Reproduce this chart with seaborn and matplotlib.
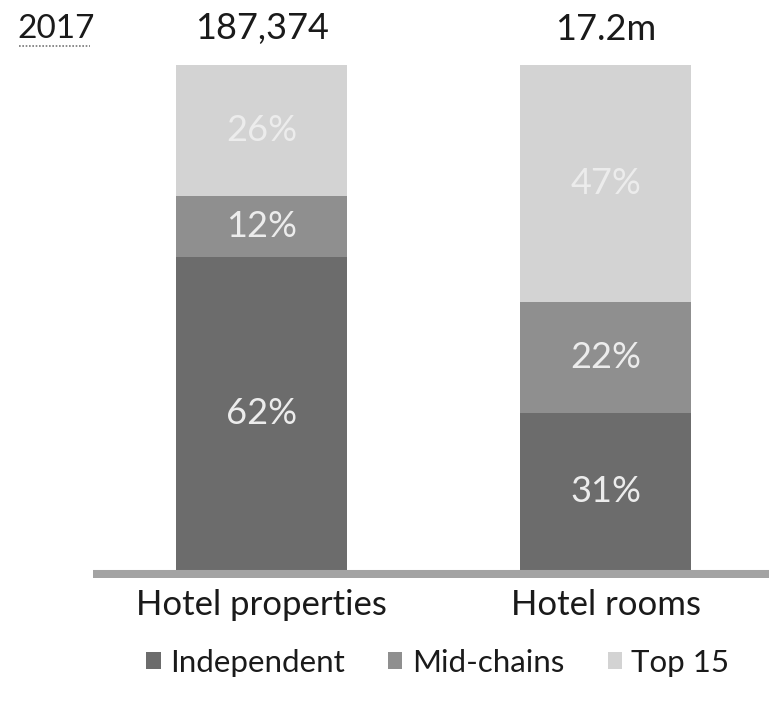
import matplotlib
matplotlib.use("Agg")
import matplotlib.pyplot as plt
import seaborn as sns
import pandas as pd
import numpy as np
from matplotlib.patches import Patch

categories = ["Hotel properties", "Hotel rooms"]
totals = ["187,374", "17.2m"]
segments = ["Independent", "Mid-chains", "Top 15"]
independent = [62, 31]
mid_chains = [12, 22]
top15 = [26, 47]
year_label = "2017"

colors = {"Independent": "#6c6c6c", "Mid-chains": "#8f8f8f", "Top 15": "#d3d3d3"}
text_color = "#1a1a1a"
label_white = "#ececec"
font = ["Lato", "DejaVu Sans"]

sns.set_theme(style="white")
plt.rcParams["font.family"] = font

fig = plt.figure(figsize=(7.69, 7.05), dpi=100)
ax = fig.add_axes([93 / 769, 1 - 578 / 705, 1 - 93 / 769, (578 - 65) / 705])

series = {"Independent": independent, "Mid-chains": mid_chains, "Top 15": top15}
cum = np.zeros(len(categories))
cums = {}
for s in segments:
    cum = cum + np.array(series[s])
    cums[s] = cum.copy()

# draw from tallest cumulative to shortest so stacking shows
for s in reversed(segments):
    df = pd.DataFrame({"cat": categories, "val": cums[s]})
    sns.barplot(data=df, x="cat", y="val", order=categories, color=colors[s],
                saturation=1, width=0.497, ax=ax, linewidth=0)

# segment labels
bottom = np.zeros(len(categories))
for s in segments:
    vals = np.array(series[s])
    for i, v in enumerate(vals):
        ax.text(i, bottom[i] + v / 2, f"{v}%", ha="center", va="center",
                fontsize=26, color=label_white, family=font)
    bottom = bottom + vals

ax.set_xlim(-0.49, 1.475)
ax.set_ylim(-1.6, 100)
ax.axhline(-0.8, color="#a3a3a3", linewidth=5.8, zorder=5)
ax.set_xlabel("")
ax.set_ylabel("")
ax.set_xticks([])
ax.set_yticks([])
for sp in ax.spines.values():
    sp.set_visible(False)
ax.patch.set_alpha(0)

# totals above bars and category labels below
for i, t in enumerate(totals):
    x_fig = (93 + (i - (-0.49)) / 1.965 * (769 - 93)) / 769
    fig.text(x_fig, 1 - 29 / 705, t, ha="center", va="center", fontsize=26,
             color=text_color, family=font)
    fig.text(x_fig, 1 - 605 / 705, categories[i], ha="center", va="center",
             fontsize=25, color=text_color, family=font)

fig.text(17 / 769, 1 - 29 / 705, year_label, ha="left", va="center", fontsize=24,
         color=text_color, family=font)
fig.add_artist(plt.Line2D([19 / 769, 90 / 769], [1 - 46 / 705, 1 - 46 / 705],
                          color="#777777", linewidth=1.2, linestyle=(0, (1, 1))))

handles = [Patch(facecolor=colors[s], edgecolor="none", label=s) for s in segments]
fig.legend(handles=handles, loc="center", bbox_to_anchor=(438 / 769, 1 - 663 / 705),
           ncol=3, frameon=False, fontsize=22.5, handlelength=0.45, handleheight=0.45,
           handletextpad=0.3, columnspacing=1.4, labelcolor=text_color)

fig.savefig("out.png", dpi=100)
